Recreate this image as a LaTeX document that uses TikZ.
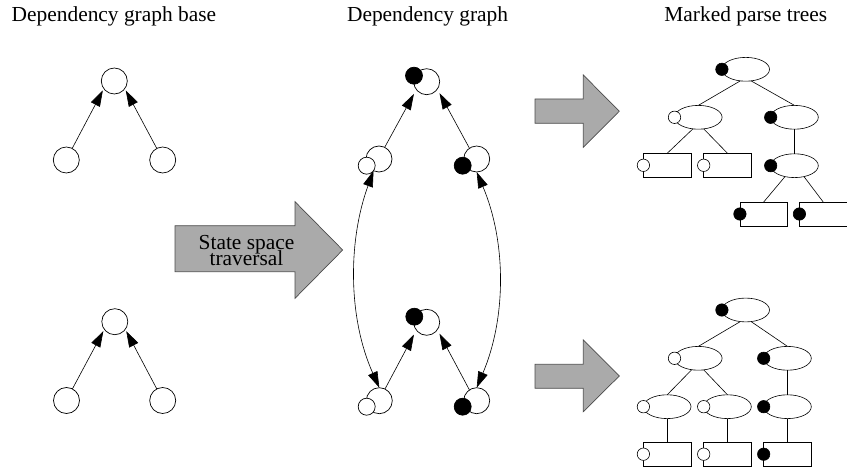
\documentclass[tikz,border=0pt]{standalone}
\usepackage{fontspec}
\setmainfont{Liberation Serif}
\usetikzlibrary{arrows.meta,shapes.geometric}
\definecolor{arrowgray}{gray}{0.667}
% caption font with lines set closer than their natural height
\newcommand\captionfont{\fontsize{21.4}{16.7}\selectfont\lineskiplimit-50pt\relax}

\begin{document}
\begin{tikzpicture}[x=1pt,y=-1pt,
  every node/.style={inner sep=0pt, outer sep=0pt},
  label text/.style={font=\captionfont},
  vstate/.style={circle, draw, line width=0.7pt, minimum size=26pt, fill=white},
  inkdot/.style={circle, draw, line width=0.7pt, minimum size=17pt, fill=black},
  blankdot/.style={circle, draw, line width=0.7pt, minimum size=17pt, fill=white},
  dep/.style={-{Triangle[length=16pt,width=10pt]}, line width=0.6pt},
  depboth/.style={{Triangle[length=16pt,width=10pt]}-{Triangle[length=16pt,width=10pt]}, line width=0.6pt},
  treeell/.style={ellipse, draw, line width=0.6pt, minimum width=47.6pt, minimum height=23.8pt},
  leafbox/.style={rectangle, draw, line width=0.6pt, minimum width=47.6pt, minimum height=24pt},
  markon/.style={circle, draw, line width=0.6pt, minimum size=12.4pt, fill=black},
  markoff/.style={circle, draw, line width=0.6pt, minimum size=12.4pt, fill=white},
  treeedge/.style={line width=0.6pt},
  bigarrow/.style={draw=black!70, line width=0.7pt, fill=arrowgray, line join=miter}
]
\useasboundingbox (0,0) rectangle (847,470);

% column titles
\node[label text, anchor=base west] (title1) at (11.7,21.7) {Dependency graph base};
\node[label text, anchor=base] (title2) at (427.6,21.7) {Dependency graph};
\node[label text, anchor=base] (title3) at (745.8,21.7) {Marked parse trees};

% ---- dependency graph base (two copies) ----
\node[vstate] (b1t) at (114.3,81) {};
\node[vstate] (b1l) at (66.3,160) {};
\node[vstate] (b1r) at (162.7,160) {};
\draw[dep, shorten >=2pt] (b1l.63) -- (b1t.216);
\draw[dep, shorten >=2pt] (b1r.117) -- (b1t.324);

\node[vstate] (b2t) at (114.8,321.7) {};
\node[vstate] (b2l) at (66.5,400.5) {};
\node[vstate] (b2r) at (162.7,400.5) {};
\draw[dep, shorten >=2pt] (b2l.63) -- (b2t.216);
\draw[dep, shorten >=2pt] (b2r.117) -- (b2t.324);

% ---- state space traversal arrow ----
\draw[bigarrow] (175,225.7) -- (295,225.7) -- (295,201.7) -- (342.7,250)
  -- (295,298.3) -- (295,271.7) -- (175,271.7) -- cycle;
\node[label text, align=center, anchor=base] (trav) at (246.5,266) {State space\\traversal};

% ---- dependency graph ----
\node[vstate] (m1t) at (426.7,81.7) {};
\node[inkdot] (m1tk) at (414,75.7) {};
\node[vstate] (m1l) at (379,159) {};
\node[blankdot] (m1lk) at (366.7,165.7) {};
\node[vstate] (m1r) at (476.7,159) {};
\node[inkdot] (m1rk) at (462.7,165.7) {};
\draw[dep, shorten >=5pt] (m1l.64) -- (m1t.217);
\draw[dep, shorten >=4.5pt] (m1r.124) -- (m1t.325);

\node[vstate] (m2t) at (426.7,322.3) {};
\node[inkdot] (m2tk) at (414.3,316.7) {};
\node[vstate] (m2l) at (379.3,400.7) {};
\node[blankdot] (m2lk) at (366.7,406.7) {};
\node[vstate] (m2r) at (476.7,400.7) {};
\node[inkdot] (m2rk) at (462.7,406.7) {};
\draw[dep, shorten >=5pt] (m2l.64) -- (m2t.217);
\draw[dep, shorten >=4.5pt] (m2r.124) -- (m2t.325);

\draw[depboth] (m1l.245) .. controls +(-25.6,70) and +(-31.4,-70) .. (m2l.north);
\draw[depboth] (m1r.south) .. controls +(29.7,70) and +(29.7,-70) .. (m2r.north);

% ---- arrows to the parse trees ----
\draw[bigarrow] (535,99) -- (583.3,99) -- (583.3,75) -- (619.3,111.2)
  -- (583.3,147.3) -- (583.3,123.3) -- (535,123.3) -- cycle;
\draw[bigarrow] (535,364.3) -- (583.3,364.3) -- (583.3,340) -- (619.3,376)
  -- (583.3,411.7) -- (583.3,388.3) -- (535,388.3) -- cycle;

% ---- first marked parse tree ----
\node[treeell] (p1r) at (745.7,69.3) {};
\node[treeell] (p1a) at (698.3,117.3) {};
\node[treeell] (p1b) at (794.5,117.3) {};
\node[leafbox] (p1a1) at (667.2,165.3) {};
\node[leafbox] (p1a2) at (727.5,165.3) {};
\node[treeell] (p1c) at (794.5,165.7) {};
\node[leafbox] (p1c1) at (763.7,214) {};
\node[leafbox] (p1c2) at (823.2,214) {};
\draw[treeedge] (p1r.245) -- (p1a.north);
\draw[treeedge] (p1r.295) -- (p1b.north);
\draw[treeedge] (p1a.245) -- (p1a1.north);
\draw[treeedge] (p1a.295) -- (p1a2.north);
\draw[treeedge] (p1b.south) -- (p1c.north);
\draw[treeedge] (p1c.229) -- (p1c1.north);
\draw[treeedge] (p1c.311) -- (p1c2.north);
\node[markon]  (p1rm)  at (p1r.west) {};
\node[markoff] (p1am)  at (p1a.west) {};
\node[markon]  (p1bm)  at (p1b.west) {};
\node[markoff] (p1a1m) at (p1a1.west) {};
\node[markoff] (p1a2m) at (p1a2.west) {};
\node[markon]  (p1cm)  at (p1c.west) {};
\node[markon]  (p1c1m) at (p1c1.west) {};
\node[markon]  (p1c2m) at (p1c2.west) {};

% ---- second marked parse tree ----
\node[treeell] (p2r) at (745.7,310) {};
\node[treeell] (p2a) at (698.3,358.3) {};
\node[treeell] (p2b) at (787.5,358.3) {};
\node[treeell] (p2a1) at (667.2,406.7) {};
\node[treeell] (p2a2) at (727.5,406.7) {};
\node[treeell] (p2c) at (787.5,406.7) {};
\node[leafbox] (p2d1) at (667.2,454.2) {};
\node[leafbox] (p2d2) at (727.5,454.2) {};
\node[leafbox] (p2d3) at (787.5,454.2) {};
\draw[treeedge] (p2r.245) -- (p2a.north);
\draw[treeedge] (p2r.295) -- (p2b.north);
\draw[treeedge] (p2a.240) -- (p2a1.north);
\draw[treeedge] (p2a.295) -- (p2a2.north);
\draw[treeedge] (p2b.south) -- (p2c.north);
\draw[treeedge] (p2a1.south) -- (p2d1.north);
\draw[treeedge] (p2a2.south) -- (p2d2.north);
\draw[treeedge] (p2c.south) -- (p2d3.north);
\node[markon]  (p2rm)  at (p2r.west) {};
\node[markoff] (p2am)  at (p2a.west) {};
\node[markon]  (p2bm)  at (p2b.west) {};
\node[markoff] (p2a1m) at (p2a1.west) {};
\node[markoff] (p2a2m) at (p2a2.west) {};
\node[markon]  (p2cm)  at (p2c.west) {};
\node[markoff] (p2d1m) at (p2d1.west) {};
\node[markoff] (p2d2m) at (p2d2.west) {};
\node[markon]  (p2d3m) at (p2d3.west) {};
\end{tikzpicture}
\end{document}
